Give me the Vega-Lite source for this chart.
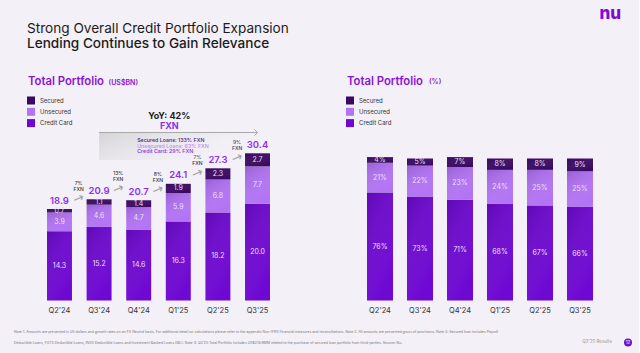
{
  "$schema": "https://vega.github.io/schema/vega-lite/v6.json",
  "background": "#f3f0f7",
  "padding": {"left": 13, "top": 4.5, "right": 7, "bottom": 9},
  "title": {
    "text": "nu",
    "anchor": "end",
    "frame": "bounds",
    "dx": -11,
    "offset": -1,
    "fontSize": 17,
    "fontWeight": 800,
    "color": "#820ad1"
  },
  "datasets": {
    "usd": [
      {"q": "Q2'24", "seg": "Credit Card", "v": 14.3},
      {"q": "Q2'24", "seg": "Unsecured", "v": 3.9},
      {"q": "Q2'24", "seg": "Secured", "v": 0.7},
      {"q": "Q3'24", "seg": "Credit Card", "v": 15.2},
      {"q": "Q3'24", "seg": "Unsecured", "v": 4.6},
      {"q": "Q3'24", "seg": "Secured", "v": 1.1},
      {"q": "Q4'24", "seg": "Credit Card", "v": 14.6},
      {"q": "Q4'24", "seg": "Unsecured", "v": 4.7},
      {"q": "Q4'24", "seg": "Secured", "v": 1.4},
      {"q": "Q1'25", "seg": "Credit Card", "v": 16.3},
      {"q": "Q1'25", "seg": "Unsecured", "v": 5.9},
      {"q": "Q1'25", "seg": "Secured", "v": 1.9},
      {"q": "Q2'25", "seg": "Credit Card", "v": 18.2},
      {"q": "Q2'25", "seg": "Unsecured", "v": 6.8},
      {"q": "Q2'25", "seg": "Secured", "v": 2.3},
      {"q": "Q3'25", "seg": "Credit Card", "v": 20.0},
      {"q": "Q3'25", "seg": "Unsecured", "v": 7.7},
      {"q": "Q3'25", "seg": "Secured", "v": 2.7}
    ],
    "pct": [
      {"q": "Q2'24", "seg": "Credit Card", "v": 76},
      {"q": "Q2'24", "seg": "Unsecured", "v": 21},
      {"q": "Q2'24", "seg": "Secured", "v": 4},
      {"q": "Q3'24", "seg": "Credit Card", "v": 73},
      {"q": "Q3'24", "seg": "Unsecured", "v": 22},
      {"q": "Q3'24", "seg": "Secured", "v": 5},
      {"q": "Q4'24", "seg": "Credit Card", "v": 71},
      {"q": "Q4'24", "seg": "Unsecured", "v": 23},
      {"q": "Q4'24", "seg": "Secured", "v": 7},
      {"q": "Q1'25", "seg": "Credit Card", "v": 68},
      {"q": "Q1'25", "seg": "Unsecured", "v": 24},
      {"q": "Q1'25", "seg": "Secured", "v": 8},
      {"q": "Q2'25", "seg": "Credit Card", "v": 67},
      {"q": "Q2'25", "seg": "Unsecured", "v": 25},
      {"q": "Q2'25", "seg": "Secured", "v": 8},
      {"q": "Q3'25", "seg": "Credit Card", "v": 66},
      {"q": "Q3'25", "seg": "Unsecured", "v": 25},
      {"q": "Q3'25", "seg": "Secured", "v": 9}
    ],
    "tot": [
      {"q": "Q2'24", "total": 18.9, "prev": null, "g": null},
      {"q": "Q3'24", "total": 20.9, "prev": 18.9, "g": "7%"},
      {"q": "Q4'24", "total": 20.7, "prev": 20.9, "g": "13%"},
      {"q": "Q1'25", "total": 24.1, "prev": 20.7, "g": "8%"},
      {"q": "Q2'25", "total": 27.3, "prev": 24.1, "g": "7%"},
      {"q": "Q3'25", "total": 30.4, "prev": 27.3, "g": "9%"}
    ]
  },
  "vconcat": [
    {
      "title": {
        "text": "Strong Overall Credit Portfolio Expansion",
        "subtitle": "Lending Continues to Gain Relevance",
        "anchor": "start",
        "frame": "group",
        "dx": -1,
        "fontSize": 13.6,
        "fontWeight": 400,
        "color": "#1c1c1c",
        "subtitleFontSize": 13.6,
        "subtitleFontWeight": 500,
        "subtitleColor": "#1c1c1c",
        "subtitlePadding": 1.5,
        "offset": 21.5
      },
      "spacing": 58,
      "bounds": "flush",
      "resolve": {"scale": {"color": "independent"}, "legend": {"color": "independent"}},
      "hconcat": [
        {
          "width": 261,
          "height": 228,
          "encoding": {
            "x": {
              "field": "q", "type": "nominal",
              "scale": {"domain": ["Q2'24", "Q3'24", "Q4'24", "Q1'25", "Q2'25", "Q3'25"], "paddingInner": 0.37, "paddingOuter": 0.48},
              "axis": {"title": null, "domain": false, "ticks": false, "labelAngle": 0, "labelFontSize": 7.5, "labelColor": "#333333", "labelPadding": 6}
            }
          },
          "layer": [
            {
              "data": {"name": "usd"},
              "transform": [{"calculate": "indexof(['Credit Card','Unsecured','Secured'], datum.seg)", "as": "k"}],
              "mark": {"type": "bar"},
              "encoding": {
                "y": {"field": "v", "type": "quantitative", "stack": "zero", "scale": {"domain": [0, 47.1], "nice": false}, "axis": null},
                "color": {
                  "field": "seg", "type": "nominal",
                  "scale": {"domain": ["Secured", "Unsecured", "Credit Card"], "range": ["#3a0a62", "#b374f4", "#6e08d2"]},
                  "legend": {"orient": "none", "legendX": -1, "legendY": 24, "title": null, "symbolType": "square", "symbolSize": 64, "labelFontSize": 6, "labelColor": "#333333", "rowPadding": 3.3, "labelOffset": 5, "symbolStrokeWidth": 0, "padding": 0}
                },
                "order": {"field": "k", "type": "quantitative"}
              }
            },
            {
              "data": {"name": "usd"},
              "transform": [{"calculate": "indexof(['Credit Card','Unsecured','Secured'], datum.seg)", "as": "k"}],
              "mark": {"type": "bar", "color": {"gradient": "linear", "x1": 0, "y1": 0, "x2": 0.5, "y2": 1, "stops": [{"offset": 0, "color": "rgba(30,0,60,0.18)"}, {"offset": 1, "color": "rgba(255,255,255,0)"}]}},
              "encoding": {
                "y": {"field": "v", "type": "quantitative", "stack": "zero", "scale": {"domain": [0, 47.1], "nice": false}},
                "order": {"field": "k", "type": "quantitative"}
              }
            },
            {
              "data": {"name": "usd"},
              "transform": [
                {"calculate": "indexof(['Credit Card','Unsecured','Secured'], datum.seg)", "as": "k"},
                {"stack": "v", "groupby": ["q"], "sort": [{"field": "k"}], "as": ["v0", "v1"]},
                {"calculate": "(datum.v0 + datum.v1) / 2", "as": "vm"}
              ],
              "mark": {"type": "text", "color": "#ecdff9", "fontSize": 7},
              "encoding": {
                "y": {"field": "vm", "type": "quantitative", "scale": {"domain": [0, 47.1], "nice": false}},
                "text": {"field": "v", "format": ".1f"}
              }
            },
            {
              "data": {"name": "tot"},
              "mark": {"type": "text", "color": "#8d2fee", "fontSize": 9.5, "fontWeight": 600, "dy": -8.5},
              "encoding": {
                "y": {"field": "total", "type": "quantitative", "scale": {"domain": [0, 47.1], "nice": false}},
                "text": {"field": "total", "format": ".1f"}
              }
            },
            {
              "data": {"name": "tot"},
              "transform": [{"filter": "datum.g != null"}],
              "mark": {"type": "text", "text": "→", "font": "DejaVu Sans", "fontSize": 13, "color": "#a3a3a3", "angle": -22, "xOffset": -8, "yOffset": -10.6},
              "encoding": {
                "x": {"field": "q", "type": "nominal", "bandPosition": 0},
                "y": {"field": "prev", "type": "quantitative", "scale": {"domain": [0, 47.1], "nice": false}}
              }
            },
            {
              "data": {"name": "tot"},
              "transform": [{"filter": "datum.g != null"}],
              "mark": {"type": "text", "fontSize": 5, "fontWeight": 500, "color": "#333333", "dx": -8, "dy": -26.5},
              "encoding": {
                "x": {"field": "q", "type": "nominal", "bandPosition": 0},
                "y": {"field": "prev", "type": "quantitative", "scale": {"domain": [0, 47.1], "nice": false}},
                "text": {"field": "g"}
              }
            },
            {
              "data": {"name": "tot"},
              "transform": [{"filter": "datum.g != null"}],
              "mark": {"type": "text", "text": "FXN", "fontSize": 5, "fontWeight": 500, "color": "#333333", "dx": -8, "dy": -20.5},
              "encoding": {
                "x": {"field": "q", "type": "nominal", "bandPosition": 0},
                "y": {"field": "prev", "type": "quantitative", "scale": {"domain": [0, 47.1], "nice": false}}
              }
            },
            {
              "data": {"values": [{}]},
              "mark": {"type": "rect", "color": {"gradient": "linear", "x1": 0, "y1": 0, "x2": 1, "y2": 0.4, "stops": [{"offset": 0, "color": "#d4d4d6"}, {"offset": 1, "color": "rgba(240,238,244,0)"}]}},
              "encoding": {
                "x": {"datum": "Q3'24", "type": "nominal"},
                "x2": {"datum": "Q3'25"},
                "y": {"datum": 34.7, "type": "quantitative", "scale": {"domain": [0, 47.1], "nice": false}},
                "y2": {"datum": 29}
              }
            },
            {
              "data": {"values": [{}]},
              "mark": {"type": "rule", "color": "#a8a8a8", "strokeWidth": 1},
              "encoding": {
                "x": {"datum": "Q3'24", "type": "nominal"},
                "x2": {"datum": "Q3'25"},
                "y": {"datum": 34.7, "type": "quantitative", "scale": {"domain": [0, 47.1], "nice": false}}
              }
            },
            {
              "data": {"values": [{}]},
              "mark": {"type": "point", "shape": "M-1,-1L0,0L-1,1", "size": 40, "filled": false, "color": "#a8a8a8", "strokeWidth": 1, "opacity": 1},
              "encoding": {
                "x": {"datum": "Q3'25", "type": "nominal"},
                "y": {"datum": 34.7, "type": "quantitative", "scale": {"domain": [0, 47.1], "nice": false}}
              }
            },
            {
              "data": {"values": [{}]},
              "mark": {"type": "text", "text": "Secured Loans: 133% FXN", "align": "left", "dx": -1.5, "fontSize": 5.3, "fontWeight": 500, "color": "#4a1a78"},
              "encoding": {"x": {"datum": "Q4'24", "type": "nominal"}, "y": {"datum": 33.1, "type": "quantitative", "scale": {"domain": [0, 47.1], "nice": false}}}
            },
            {
              "data": {"values": [{}]},
              "mark": {"type": "text", "text": "Unsecured Loans: 63% FXN", "align": "left", "dx": -1.5, "fontSize": 5.3, "fontWeight": 500, "color": "#c08cf0"},
              "encoding": {"x": {"datum": "Q4'24", "type": "nominal"}, "y": {"datum": 32.0, "type": "quantitative", "scale": {"domain": [0, 47.1], "nice": false}}}
            },
            {
              "data": {"values": [{}]},
              "mark": {"type": "text", "text": "Credit Card: 29% FXN", "align": "left", "dx": -1.5, "fontSize": 5.3, "fontWeight": 500, "color": "#8a2be2"},
              "encoding": {"x": {"datum": "Q4'24", "type": "nominal"}, "y": {"datum": 30.8, "type": "quantitative", "scale": {"domain": [0, 47.1], "nice": false}}}
            },
            {
              "data": {"values": [{}]},
              "mark": {"type": "text", "text": "YoY: 42%", "dx": -9, "fontSize": 9, "fontWeight": 700, "color": "#1a1a1a"},
              "encoding": {"x": {"datum": "Q1'25", "type": "nominal"}, "y": {"datum": 38.2, "type": "quantitative", "scale": {"domain": [0, 47.1], "nice": false}}}
            },
            {
              "data": {"values": [{}]},
              "mark": {"type": "text", "text": "FXN", "dx": -9, "fontSize": 9, "fontWeight": 700, "color": "#8d2fee"},
              "encoding": {"x": {"datum": "Q1'25", "type": "nominal"}, "y": {"datum": 36.0, "type": "quantitative", "scale": {"domain": [0, 47.1], "nice": false}}}
            },
            {
              "data": {"values": [{}]},
              "mark": {"type": "text", "text": "Total Portfolio", "align": "left", "dx": -31.5, "fontSize": 11.3, "fontWeight": 600, "color": "#8a14d6"},
              "encoding": {"x": {"datum": "Q2'24", "type": "nominal"}, "y": {"datum": 45.2, "type": "quantitative", "scale": {"domain": [0, 47.1], "nice": false}}}
            },
            {
              "data": {"values": [{}]},
              "mark": {"type": "text", "text": "(US$BN)", "align": "left", "dx": 9.5, "fontSize": 7, "fontWeight": 600, "color": "#8a14d6"},
              "encoding": {"x": {"datum": "Q3'24", "type": "nominal"}, "y": {"datum": 45.0, "type": "quantitative", "scale": {"domain": [0, 47.1], "nice": false}}}
            },
            {
              "data": {"values": [{}]},
              "mark": {"type": "text", "text": "Note 1: Amounts are presented in US dollars and growth rates on an FX Neutral basis. For additional detail on calculations please refer to the appendix Non-IFRS Financial measures and reconciliations. Note 2: All amounts are presented gross of provisions. Note 3: Secured loan includes Payroll", "align": "left", "dx": -45.5, "fontSize": 3.5, "color": "#777777"},
              "encoding": {"x": {"datum": "Q2'24", "type": "nominal"}, "y": {"datum": -6.6, "type": "quantitative", "scale": {"domain": [0, 47.1], "nice": false}}}
            },
            {
              "data": {"values": [{}]},
              "mark": {"type": "text", "text": "Deductible Loans, FGTS Deductible Loans, INSS Deductible Loans and Investment Backed Loans (IBL). Note 4: Q3'25 Total Portfolio includes US$218.9MM related to the purchase of secured loan portfolio from third-parties. Source: Nu.", "align": "left", "dx": -45.5, "fontSize": 3.5, "color": "#777777"},
              "encoding": {"x": {"datum": "Q2'24", "type": "nominal"}, "y": {"datum": -8.68, "type": "quantitative", "scale": {"domain": [0, 47.1], "nice": false}}}
            }
          ]
        },
        {
          "width": 266,
          "height": 228,
          "encoding": {
            "x": {
              "field": "q", "type": "nominal",
              "scale": {"domain": ["Q2'24", "Q3'24", "Q4'24", "Q1'25", "Q2'25", "Q3'25"], "paddingInner": 0.35, "paddingOuter": 0.5},
              "axis": {"title": null, "domain": false, "ticks": false, "labelAngle": 0, "labelFontSize": 7.5, "labelColor": "#333333", "labelPadding": 6}
            }
          },
          "layer": [
            {
              "data": {"name": "pct"},
              "transform": [{"calculate": "indexof(['Credit Card','Unsecured','Secured'], datum.seg)", "as": "k"}],
              "mark": {"type": "bar"},
              "encoding": {
                "y": {"field": "v", "type": "quantitative", "stack": "zero", "scale": {"domain": [0, 160.6], "nice": false}, "axis": null},
                "color": {
                  "field": "seg", "type": "nominal",
                  "scale": {"domain": ["Secured", "Unsecured", "Credit Card"], "range": ["#3a0a62", "#b374f4", "#6e08d2"]},
                  "legend": {"orient": "none", "legendX": -1, "legendY": 24, "title": null, "symbolType": "square", "symbolSize": 64, "labelFontSize": 6, "labelColor": "#333333", "rowPadding": 3.3, "labelOffset": 5, "symbolStrokeWidth": 0, "padding": 0}
                },
                "order": {"field": "k", "type": "quantitative"}
              }
            },
            {
              "data": {"name": "pct"},
              "transform": [{"calculate": "indexof(['Credit Card','Unsecured','Secured'], datum.seg)", "as": "k"}],
              "mark": {"type": "bar", "color": {"gradient": "linear", "x1": 0, "y1": 0, "x2": 0.5, "y2": 1, "stops": [{"offset": 0, "color": "rgba(30,0,60,0.18)"}, {"offset": 1, "color": "rgba(255,255,255,0)"}]}},
              "encoding": {
                "y": {"field": "v", "type": "quantitative", "stack": "zero", "scale": {"domain": [0, 160.6], "nice": false}},
                "order": {"field": "k", "type": "quantitative"}
              }
            },
            {
              "data": {"name": "pct"},
              "transform": [
                {"calculate": "indexof(['Credit Card','Unsecured','Secured'], datum.seg)", "as": "k"},
                {"stack": "v", "groupby": ["q"], "sort": [{"field": "k"}], "as": ["v0", "v1"]},
                {"calculate": "(datum.v0 + datum.v1) / 2", "as": "vm"},
                {"calculate": "datum.v + '%'", "as": "lbl"}
              ],
              "mark": {"type": "text", "color": "#ecdff9", "fontSize": 7},
              "encoding": {
                "y": {"field": "vm", "type": "quantitative", "scale": {"domain": [0, 160.6], "nice": false}},
                "text": {"field": "lbl"}
              }
            },
            {
              "data": {"values": [{}]},
              "mark": {"type": "text", "text": "Total Portfolio", "align": "left", "dx": -33, "fontSize": 11.3, "fontWeight": 600, "color": "#8a14d6"},
              "encoding": {"x": {"datum": "Q2'24", "type": "nominal"}, "y": {"datum": 154.2, "type": "quantitative", "scale": {"domain": [0, 160.6], "nice": false}}}
            },
            {
              "data": {"values": [{}]},
              "mark": {"type": "text", "text": "(%)", "align": "left", "dx": 9, "fontSize": 7, "fontWeight": 600, "color": "#8a14d6"},
              "encoding": {"x": {"datum": "Q3'24", "type": "nominal"}, "y": {"datum": 154.0, "type": "quantitative", "scale": {"domain": [0, 160.6], "nice": false}}}
            },
            {
              "data": {"values": [{}]},
              "mark": {"type": "text", "text": "Q3'25 Results", "dx": 17, "fontSize": 4.5, "color": "#9a9a9a"},
              "encoding": {"x": {"datum": "Q3'25", "type": "nominal"}, "y": {"datum": -29.3, "type": "quantitative", "scale": {"domain": [0, 160.6], "nice": false}}}
            },
            {
              "data": {"values": [{}]},
              "mark": {"type": "point", "shape": "circle", "size": 64, "filled": true, "color": "#6f0fd0", "opacity": 1, "xOffset": 48},
              "encoding": {"x": {"datum": "Q3'25", "type": "nominal"}, "y": {"datum": -29.6, "type": "quantitative", "scale": {"domain": [0, 160.6], "nice": false}}}
            },
            {
              "data": {"values": [{}]},
              "mark": {"type": "text", "text": "12", "dx": 48, "fontSize": 4.5, "color": "#ffffff"},
              "encoding": {"x": {"datum": "Q3'25", "type": "nominal"}, "y": {"datum": -29.6, "type": "quantitative", "scale": {"domain": [0, 160.6], "nice": false}}}
            }
          ]
        }
      ]
    }
  ],
  "config": {
    "font": "Inter",
    "view": {"stroke": null},
    "text": {"font": "Inter"},
    "title": {"font": "Inter", "subtitleFont": "Inter"}
  }
}
